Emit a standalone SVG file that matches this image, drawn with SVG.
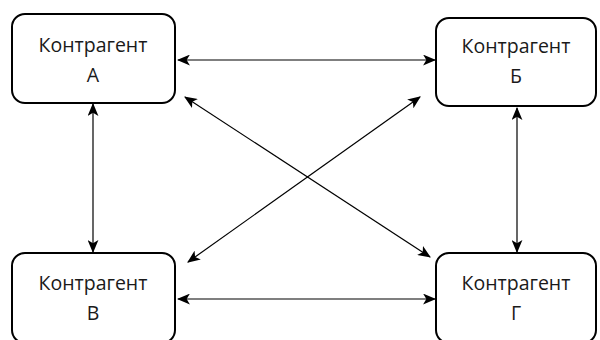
<svg xmlns="http://www.w3.org/2000/svg" width="600" height="340" viewBox="0 0 600 340">
<defs>
<style>
.box{fill:#fff;stroke:#000;stroke-width:2}
.lbl{font-family:"Open Sans","DejaVu Sans",sans-serif;font-size:19.5px;fill:#1a1a1a;text-anchor:middle}
.con{stroke:#000;stroke-width:1.2;fill:none;marker-start:url(#ah);marker-end:url(#ah)}
</style>
<marker id="ah" viewBox="0 0 12 10" refX="11" refY="5" markerWidth="13" markerHeight="11" markerUnits="userSpaceOnUse" orient="auto-start-reverse">
<path d="M0,0 L12,5 L0,10 L3,5 Z" fill="#000"/>
</marker>
</defs>
<rect width="600" height="340" fill="#fff"/>
<g id="connectors">
<line class="con" x1="178" y1="60" x2="435" y2="60"/>
<line class="con" x1="178" y1="299" x2="435" y2="299"/>
<line class="con" x1="93" y1="104" x2="93" y2="252"/>
<line class="con" x1="517" y1="108" x2="517" y2="252"/>
<line class="con" x1="185" y1="97" x2="430" y2="257"/>
<line class="con" x1="420" y1="97" x2="188" y2="262"/>
</g>
<g id="nodeA">
<rect class="box" x="12" y="14" width="163" height="89" rx="13"/>
<text class="lbl" x="93" y="52">Контрагент</text>
<text class="lbl" x="93" y="82">А</text>
</g>
<g id="nodeB">
<rect class="box" x="436" y="18" width="160" height="88" rx="13"/>
<text class="lbl" x="516" y="53">Контрагент</text>
<text class="lbl" x="516" y="83">Б</text>
</g>
<g id="nodeV">
<rect class="box" x="12" y="253" width="163" height="90" rx="13"/>
<text class="lbl" x="93" y="290">Контрагент</text>
<text class="lbl" x="93" y="320">В</text>
</g>
<g id="nodeG">
<rect class="box" x="436" y="253" width="160" height="90" rx="13"/>
<text class="lbl" x="516" y="290">Контрагент</text>
<text class="lbl" x="516" y="320">Г</text>
</g>
</svg>
